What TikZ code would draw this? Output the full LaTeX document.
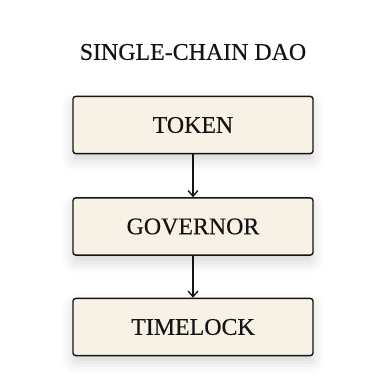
\documentclass[tikz,border=0pt]{standalone}
\usepackage{fontspec}
\setmainfont{Liberation Serif}[UprightFeatures={FakeBold=0.35}]
\usepackage{xcolor}
\usepackage{tikz}
\usetikzlibrary{positioning, arrows.meta, shadows.blur}

\definecolor{boxfill}{HTML}{F8F1E5}
\definecolor{inkdark}{HTML}{141414}

\tikzset{
  stagebox/.style={draw=inkdark, line width=1pt, rounded corners=2pt, fill=boxfill,
    minimum width=6cm, minimum height=1.43cm, inner sep=0pt, text=inkdark,
    font=\fontsize{17}{20}\selectfont,
    blur shadow={shadow xshift=0pt, shadow yshift=-5pt, shadow blur radius=8pt, shadow opacity=16}},
  flowarrow/.style={draw=inkdark, line width=0.95pt, -{Straight Barb[length=4pt,width=7pt]}}
}

\begin{document}
\begin{tikzpicture}[x=0.025cm, y=-0.025cm]
          \useasboundingbox (0,0) rectangle (382,382);
          \node[text=inkdark, font=\fontsize{17}{20}\selectfont] (title) at (193, 52) {SINGLE-CHAIN DAO};
          \foreach \y/\name/\txt in {125/token/TOKEN, 226.5/governor/GOVERNOR, 327/timelock/TIMELOCK} {
            \node[stagebox] (\name) at (193, \y) {\txt};
          }
          \draw[flowarrow] (token) -- (governor);
          \draw[flowarrow] (governor) -- (timelock);
        \end{tikzpicture}
\end{document}
